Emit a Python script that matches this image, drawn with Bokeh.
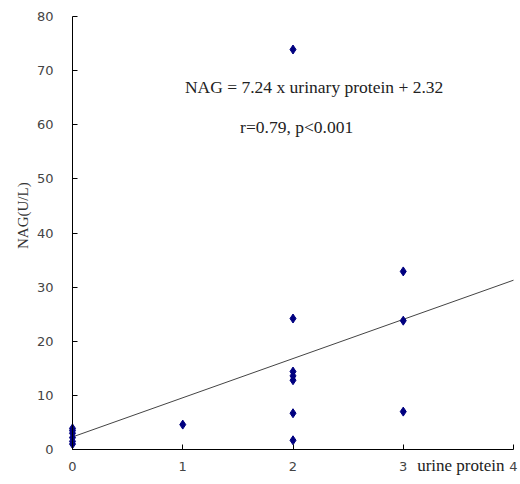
from math import pi
from bokeh.plotting import figure
from bokeh.models import Label, Range1d, FixedTicker
from bokeh.embed import file_html
from bokeh.resources import INLINE

# Data
protein_x = [0, 0, 0, 0, 0, 0,
             1,
             2, 2, 2, 2, 2, 2, 2,
             3, 3, 3]
nag_y = [1.0, 1.5, 2.2, 3.0, 3.5, 3.9,
         4.6,
         73.9, 24.2, 14.4, 13.6, 12.8, 6.7, 1.7,
         32.9, 23.8, 7.0]
fit_slope = 7.24
fit_intercept = 2.32
x_ticks = [0, 1, 2, 3, 4]
y_ticks = [0, 10, 20, 30, 40, 50, 60, 70, 80]
equation_text = "NAG = 7.24 x urinary protein + 2.32"
stats_text = "r=0.79, p<0.001"
x_title = "urine protein"
y_title = "NAG(U/L)"

W, H = 518, 480
x0_px, x4_px = 72, 513      # page position of x=0 and x=4
y0_px, y80_px = 449, 16     # page position of y=0 and y=80
sx = (x4_px - x0_px) / (x_ticks[-1] - x_ticks[0])
sy = (y0_px - y80_px) / (y_ticks[-1] - y_ticks[0])

p = figure(width=W, height=H, output_backend="svg", toolbar_location=None,
           x_range=Range1d(-x0_px / sx, x_ticks[-1] + (W - x4_px) / sx),
           y_range=Range1d(-(H - y0_px) / sy, y_ticks[-1] + y80_px / sy),
           min_border=0)
p.outline_line_color = None
p.xgrid.visible = False
p.ygrid.visible = False
p.background_fill_color = "white"

for ax in (p.xaxis[0], p.yaxis[0]):
    ax.fixed_location = 0
    ax.axis_line_color = "black"
    ax.axis_line_width = 1
    ax.major_tick_in = 5
    ax.major_tick_out = 0
    ax.major_tick_line_color = "black"
    ax.minor_tick_line_color = None
    ax.major_label_text_font = "DejaVu Sans"
    ax.major_label_text_font_size = "13px"
    ax.major_label_text_color = "#444444"

p.xaxis[0].ticker = FixedTicker(ticks=x_ticks)
p.yaxis[0].ticker = FixedTicker(ticks=y_ticks)
p.xaxis[0].bounds = (x_ticks[0], x_ticks[-1])
p.yaxis[0].bounds = (y_ticks[0], y_ticks[-1])
p.xaxis[0].major_label_standoff = 12
p.yaxis[0].major_label_standoff = 19

# regression line over the x-axis span
fit_x = [x_ticks[0], x_ticks[-1]]
fit_y = [fit_slope * v + fit_intercept for v in fit_x]
p.line(fit_x, fit_y, line_color="#444444", line_width=1)

p.scatter(protein_x, nag_y, marker="diamond", size=9, color="#000080")

p.add_layout(Label(x=1.02, y=66.9, text=equation_text, text_align="left",
                   text_baseline="middle", text_font="Liberation Serif",
                   text_font_size="17.5px", text_color="#222222"))
p.add_layout(Label(x=1.52, y=59.5, text=stats_text, text_align="left",
                   text_baseline="middle", text_font="Liberation Serif",
                   text_font_size="17.5px", text_color="#222222"))
p.add_layout(Label(x=4, y=0, x_offset=-9, y_offset=-16, text=x_title,
                   text_align="right", text_baseline="middle",
                   text_font="Liberation Serif", text_font_size="17px",
                   text_color="#222222"))
p.add_layout(Label(x=-0.4535, y=43.2, angle=pi / 2,
                   text=y_title, text_align="center", text_baseline="middle",
                   text_font="Liberation Serif", text_font_size="15px",
                   text_color="#333333"))

open("out.html", "w").write(file_html(p, INLINE))
